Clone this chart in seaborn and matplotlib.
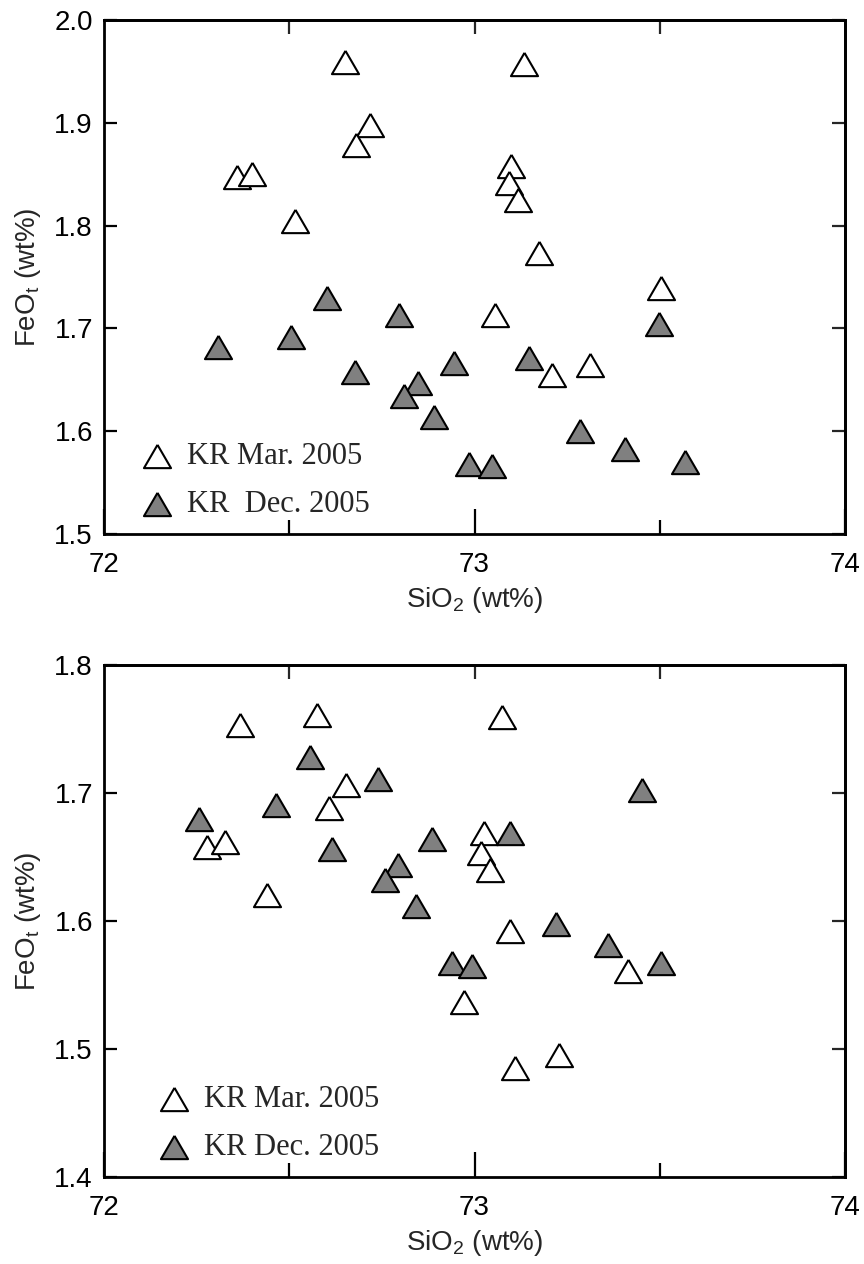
import matplotlib
matplotlib.use('Agg')
import matplotlib.pyplot as plt
import seaborn as sns
import pandas as pd
from matplotlib.ticker import FormatStrFormatter, MultipleLocator

# upper panel
top_mar_sio2 = [72.650, 72.717, 72.681, 72.358, 72.400, 72.516, 73.134, 73.099, 73.093,
                73.118, 73.174, 73.503, 73.055, 73.312, 73.210]
top_mar_feo = [1.959, 1.898, 1.878, 1.847, 1.850, 1.804, 1.957, 1.858, 1.841,
               1.825, 1.773, 1.739, 1.713, 1.664, 1.655]
top_dec_sio2 = [72.603, 72.796, 72.506, 72.308, 72.677, 72.945, 72.847, 72.810, 72.891,
                72.985, 73.498, 73.147, 73.284, 73.406, 73.567, 73.048]
top_dec_feo = [1.730, 1.713, 1.692, 1.682, 1.658, 1.666, 1.647, 1.634, 1.614,
               1.568, 1.704, 1.671, 1.600, 1.583, 1.570, 1.566]

# lower panel
bot_mar_sio2 = [72.367, 72.576, 72.654, 72.607, 72.277, 72.326, 72.441, 73.073, 73.026,
                73.017, 73.042, 73.096, 73.415, 73.228, 73.109, 72.973]
bot_mar_feo = [1.753, 1.761, 1.706, 1.688, 1.658, 1.662, 1.620, 1.759, 1.669,
               1.653, 1.640, 1.592, 1.561, 1.495, 1.485, 1.537]
bot_dec_sio2 = [72.556, 72.740, 72.465, 72.256, 72.616, 72.886, 72.794, 72.758, 72.843,
                72.938, 72.993, 73.451, 73.096, 73.219, 73.359, 73.504]
bot_dec_feo = [1.728, 1.711, 1.691, 1.680, 1.656, 1.664, 1.644, 1.632, 1.612,
               1.567, 1.565, 1.702, 1.669, 1.598, 1.581, 1.567]

legend_top = ['KR Mar. 2005', 'KR  Dec. 2005']
legend_bot = ['KR Mar. 2005', 'KR Dec. 2005']

sns.set_style('ticks')
plt.rcParams['font.family'] = ['Liberation Sans', 'DejaVu Sans']
plt.rcParams['mathtext.fontset'] = 'custom'
plt.rcParams['mathtext.rm'] = 'Liberation Sans'
plt.rcParams['mathtext.it'] = 'Liberation Sans'
plt.rcParams['mathtext.default'] = 'regular'

# slightly flattened triangle marker
tri = [(0, 0.86), (-1, -0.86), (1, -0.86), (0, 0.86)]

fig = plt.figure(figsize=(8.64, 12.64), dpi=100)
ax1 = fig.add_axes([104 / 864, 1 - 534 / 1264, 741 / 864, 514 / 1264])
ax2 = fig.add_axes([104 / 864, 1 - 1177 / 1264, 741 / 864, 512 / 1264])


def draw(ax, mx, my, dx, dy, labels, ylim, leg_anchor):
    df_m = pd.DataFrame({'SiO2': mx, 'FeO': my})
    df_d = pd.DataFrame({'SiO2': dx, 'FeO': dy})
    sns.scatterplot(data=df_m, x='SiO2', y='FeO', ax=ax, marker=tri, s=380,
                    color='white', edgecolor='black', linewidth=1.5, label=labels[0],
                    zorder=3)
    sns.scatterplot(data=df_d, x='SiO2', y='FeO', ax=ax, marker=tri, s=380,
                    color='#808080', edgecolor='black', linewidth=1.5, label=labels[1],
                    zorder=3)
    ax.set_xlim(72, 74)
    ax.set_ylim(*ylim)
    ax.xaxis.set_major_locator(MultipleLocator(1))
    ax.xaxis.set_minor_locator(MultipleLocator(0.5))
    ax.yaxis.set_major_locator(MultipleLocator(0.1))
    ax.xaxis.set_major_formatter(FormatStrFormatter('%d'))
    ax.yaxis.set_major_formatter(FormatStrFormatter('%.1f'))
    ax.tick_params(axis='both', which='both', direction='in', top=False, right=False,
                   width=1.6, labelsize=20, colors='black')
    ax.tick_params(axis='x', which='major', length=18, pad=13)
    ax.tick_params(axis='x', which='minor', length=10)
    ax.tick_params(axis='y', which='major', length=9.5, pad=8)

    # inward ticks on the top and right frame
    sx = ax.secondary_xaxis('top')
    sx.set_xticks([72.5, 73, 73.5])
    sx.tick_params(direction='in', length=10, width=1.6, labeltop=False)
    sy = ax.secondary_yaxis('right')
    sy.set_yticks(ax.get_yticks())
    sy.tick_params(direction='in', length=9.5, width=1.6, labelright=False)
    for a in (ax, sx, sy):
        for sp in a.spines.values():
            sp.set_linewidth(2)
            sp.set_color('black')

    ax.set_xlabel('SiO$_2$ (wt%)', fontsize=20, labelpad=5)
    ax.set_ylabel('FeO$_t$ (wt%)', fontsize=20, labelpad=8)
    ax.legend(loc='lower left', bbox_to_anchor=leg_anchor, frameon=False,
              prop={'family': 'Liberation Serif', 'size': 22},
              handletextpad=0.3, labelspacing=0.62, borderaxespad=0,
              handlelength=1.4)


draw(ax1, top_mar_sio2, top_mar_feo, top_dec_sio2, top_dec_feo, legend_top,
     (1.5, 2.0), (0.026, 0.006))
draw(ax2, bot_mar_sio2, bot_mar_feo, bot_dec_sio2, bot_dec_feo, legend_bot,
     (1.4, 1.8), (0.049, 0.006))

fig.savefig('out.png', dpi=100)
